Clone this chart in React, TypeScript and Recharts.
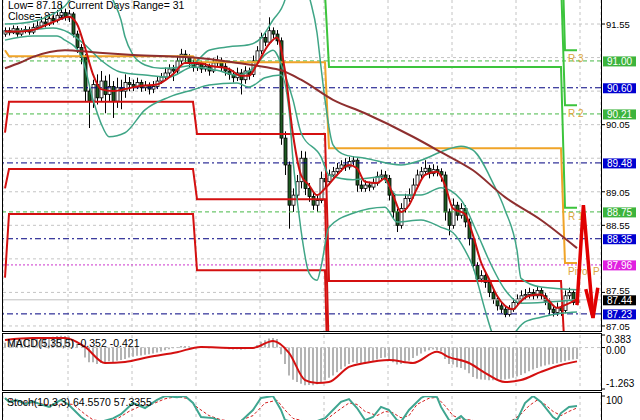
import { ComposedChart, Bar, Line, XAxis, YAxis, CartesianGrid, ReferenceLine } from 'recharts';

const FONT = '"Liberation Sans", Arial, sans-serif';

// price bars (opens are the previous close)
const firstOpen = 91.4;
const closes = [
  91.45, 91.42, 91.48, 91.40, 91.44, 91.47, 91.43, 91.50, 91.52, 91.58,
  91.55, 91.63, 91.60, 91.68, 91.72, 91.66, 91.70, 91.40, 91.20, 91.05,
  90.55, 90.40, 90.65, 90.45, 90.70, 90.50, 90.62, 90.40, 90.60, 90.55,
  90.68, 90.65, 90.62, 90.68, 90.60, 90.63, 90.58, 90.62, 90.70, 90.76,
  90.82, 90.88, 90.85, 91.00, 91.10, 91.05, 90.98, 90.90, 90.95, 90.88,
  90.92, 90.85, 90.97, 91.00, 90.92, 90.85, 90.80, 90.75, 90.82, 90.72,
  90.85, 90.80, 91.00, 91.15, 91.35, 91.28, 91.45, 91.40, 91.30, 89.85,
  89.45, 88.85, 89.00, 89.20, 89.55, 89.10, 88.98, 88.85, 88.92, 89.25,
  89.20, 89.30, 89.35, 89.40, 89.45, 89.42, 89.50, 89.52, 89.15, 89.10,
  89.15, 89.12, 89.18, 89.28, 89.30, 89.25, 89.00, 88.75, 88.55, 88.80,
  88.95, 89.00, 89.15, 89.30, 89.35, 89.40, 89.32, 89.38, 89.35, 89.30,
  88.75, 88.55, 88.85, 88.70, 88.80, 88.60, 88.35, 87.95, 87.75, 87.80,
  87.70, 87.55, 87.45, 87.35, 87.30, 87.22, 87.30, 87.40, 87.45, 87.50,
  87.52, 87.55, 87.50, 87.58, 87.50, 87.42, 87.30, 87.25, 87.32, 87.28,
  87.50, 87.55, 87.40, 87.44,
];
const highs = [
  91.50, 91.50, 91.53, 91.52, 91.49, 91.52, 91.51, 91.56, 91.60, 91.66,
  91.64, 91.70, 91.68, 91.76, 91.84, 91.78, 91.76, 91.73, 91.45, 91.25,
  91.10, 90.62, 90.72, 90.80, 90.85, 90.78, 90.80, 90.70, 90.75, 90.72,
  90.80, 90.76, 90.72, 90.75, 90.72, 90.70, 90.68, 90.70, 90.76, 90.82,
  90.90, 90.95, 90.94, 91.08, 91.18, 91.16, 91.10, 91.02, 91.02, 91.00,
  90.98, 90.96, 91.04, 91.08, 91.05, 90.97, 90.90, 90.86, 90.90, 90.88,
  90.92, 90.90, 91.08, 91.22, 91.42, 91.42, 91.65, 91.50, 91.46, 91.35,
  89.95, 89.50, 89.10, 89.30, 89.66, 89.65, 89.18, 89.05, 89.00, 89.35,
  89.32, 89.38, 89.42, 89.48, 89.52, 89.55, 89.57, 89.58, 89.55, 89.22,
  89.22, 89.20, 89.25, 89.35, 89.38, 89.36, 89.30, 89.05, 88.80, 88.88,
  89.02, 89.10, 89.25, 89.38, 89.42, 89.52, 89.45, 89.46, 89.44, 89.40,
  89.35, 88.80, 88.95, 88.90, 88.88, 88.85, 88.65, 88.40, 88.00, 87.88,
  87.85, 87.74, 87.60, 87.50, 87.40, 87.34, 87.36, 87.46, 87.52, 87.58,
  87.60, 87.62, 87.60, 87.64, 87.62, 87.54, 87.46, 87.34, 87.40, 87.36,
  87.58, 87.62, 87.58, 87.50,
];
const lows = [
  91.36, 91.38, 91.40, 91.36, 91.37, 91.41, 91.39, 91.40, 91.46, 91.48,
  91.50, 91.52, 91.54, 91.57, 91.62, 91.60, 91.58, 91.35, 91.12, 90.95,
  90.40, 90.00, 90.30, 90.35, 90.40, 90.22, 90.40, 90.15, 90.30, 90.28,
  90.45, 90.55, 90.55, 90.58, 90.54, 90.55, 90.50, 90.52, 90.58, 90.66,
  90.72, 90.76, 90.70, 90.80, 90.95, 90.98, 90.90, 90.84, 90.85, 90.82,
  90.84, 90.78, 90.82, 90.92, 90.85, 90.78, 90.72, 90.68, 90.70, 90.50,
  90.66, 90.72, 90.76, 90.95, 91.10, 91.22, 91.24, 91.34, 91.24, 89.75,
  89.30, 88.50, 88.75, 88.90, 89.10, 89.00, 88.90, 88.78, 88.75, 88.88,
  89.12, 89.15, 89.25, 89.30, 89.35, 89.36, 89.38, 89.44, 89.05, 89.05,
  89.05, 89.06, 89.08, 89.14, 89.22, 89.18, 88.92, 88.65, 88.45, 88.50,
  88.74, 88.90, 88.95, 89.10, 89.25, 89.30, 89.25, 89.28, 89.28, 89.20,
  88.62, 88.40, 88.50, 88.62, 88.65, 88.52, 88.25, 87.88, 87.68, 87.70,
  87.62, 87.48, 87.38, 87.28, 87.24, 87.18, 87.19, 87.26, 87.36, 87.40,
  87.44, 87.46, 87.44, 87.46, 87.44, 87.36, 87.22, 87.19, 87.20, 87.20,
  87.24, 87.44, 87.36, 87.36,
];

// daily pivot levels: first bar of each day and its levels
const dayStarts = [0, 1, 48, 81, 140];
const r3Levels = [93.5, 93.4, 93.3, 93.2, 91.16];
const r2Levels = [92.8, 92.7, 92.6, 92.2, 90.34];
const r1Levels = [92.2, 92.05, 92.0, 90.91, 88.81];
const pLevels = [91.16, 91.07, 90.98, 89.70, 87.99];
const s1Levels = [89.93, 90.39, 89.91, 87.72, 86.6];
const s2Levels = [89.1, 89.39, 88.94, 86.5, 85.8];
const s3Levels = [87.77, 88.72, 87.88, 85.5, 85.0];

// indicator lines: [bar, value]
const fastMa = [
  [0, 91.44], [4, 91.44], [8, 91.48], [12, 91.58], [16, 91.66], [18, 91.55], [20, 91.2], [22, 90.8],
  [24, 90.58], [27, 90.55], [30, 90.58], [34, 90.63], [38, 90.65], [42, 90.8], [45, 90.97], [48, 90.97],
  [52, 90.92], [56, 90.88], [59, 90.78], [61, 90.78], [63, 90.95], [66, 91.25], [68, 91.35], [70, 90.85],
  [72, 89.9], [74, 89.3], [76, 89.15], [78, 89.0], [80, 89.1], [83, 89.3], [86, 89.45], [88, 89.4],
  [90, 89.2], [93, 89.18], [95, 89.25], [97, 89.0], [99, 88.75], [101, 88.85], [103, 89.1], [105, 89.3],
  [108, 89.35], [110, 89.15], [112, 88.8], [115, 88.72], [117, 88.4], [119, 88.0], [121, 87.75], [123, 87.5],
  [125, 87.35], [127, 87.3], [129, 87.42], [131, 87.5], [134, 87.52], [136, 87.42], [138, 87.32], [140, 87.36], [143, 87.45],
];
const slowMa = [
  [0, 90.89], [4, 90.98], [7, 91.06], [15, 91.16], [22, 91.13], [32, 91.09], [49, 91.04], [57, 90.98],
  [65, 90.91], [69, 90.86], [74, 90.72], [82, 90.42], [90, 90.22], [102, 89.87], [109, 89.64], [117, 89.37],
  [125, 88.97], [134, 88.63], [143, 88.21],
];
const bandUpper = [
  [0, 91.55], [4, 91.56], [9, 91.62], [12, 91.7], [15, 91.82], [17, 91.98], [20, 92.35], [24, 92.28],
  [27, 91.91], [29, 91.61], [30, 91.36], [32, 91.09], [35, 90.94], [39, 90.89], [44, 90.91], [47, 90.95],
  [51, 91.16], [56, 91.21], [61, 91.24], [64, 91.34], [67, 91.61], [70, 91.91], [71, 92.35], [74, 92.5],
  [76, 91.98], [78, 91.42], [79, 90.91], [80, 90.42], [82, 89.75], [85, 89.6], [90, 89.55], [99, 89.45],
  [104, 89.52], [110, 89.67], [114, 89.73], [117, 89.67], [122, 89.18], [125, 88.78], [128, 88.18],
  [129, 87.76], [134, 87.63], [143, 87.59],
];
const bandMiddle = [
  [0, 91.43], [6, 91.46], [12, 91.49], [16, 91.42], [20, 91.24], [24, 91.01], [29, 90.83], [35, 90.79],
  [41, 90.76], [47, 90.91], [53, 90.86], [58, 90.79], [62, 90.89], [65, 91.09], [67, 91.16], [70, 90.79],
  [72, 90.42], [74, 89.93], [79, 89.57], [81, 89.3], [87, 89.23], [94, 89.27], [98, 89.0], [104, 89.0],
  [109, 89.11], [114, 88.93], [118, 88.44], [121, 88.03], [125, 87.59], [129, 87.39], [143, 87.44],
];
const bandLower = [
  [0, 91.31], [7, 91.37], [13, 91.37], [15, 91.31], [19, 91.09], [22, 90.42], [24, 90.07], [26, 89.87],
  [30, 89.93], [35, 90.27], [41, 90.46], [47, 90.57], [51, 90.64], [58, 90.67], [61, 90.61], [65, 90.75],
  [69, 90.79], [71, 90.27], [72, 89.52], [74, 88.48], [76, 87.84], [78, 87.73], [79, 87.93], [81, 88.52],
  [87, 88.73], [95, 88.82], [98, 88.6], [104, 88.63], [109, 88.52], [112, 88.44], [115, 88.18], [117, 87.93],
  [120, 87.29], [122, 86.91], [125, 86.69], [128, 86.99], [130, 87.11], [134, 87.18], [139, 87.24], [143, 87.26],
];
const arrowBody = [[143, 87.36], [144.6, 88.85], [147, 87.17]];
const arrowHead = [[145.2, 87.6], [147, 87.17], [148.2, 87.62]];

// MACD(5,35,5): histogram per bar and signal line
const macdMain = [
  0.15, 0.18, 0.2, 0.2, 0.22, 0.25, 0.25, 0.27, 0.28, 0.3,
  0.3, 0.32, 0.33, 0.35, 0.36, 0.35, 0.34, 0.25, 0.12, 0.0,
  -0.3, -0.45, -0.45, -0.5, -0.47, -0.45,
  -0.42, -0.45, -0.4, -0.38, -0.35, -0.3, -0.28, -0.25, -0.24, -0.22, -0.2,
  -0.18, -0.15, -0.12, -0.08, -0.05, -0.02, 0.02, 0.05, 0.05, 0.04, 0.02, 0.0,
  -0.01, 0, -0.02, -0.01, 0.0, -0.01, -0.03, -0.05, -0.06, -0.05, -0.07, -0.05, -0.04,
  0.0, 0.08, 0.18, 0.22, 0.28, 0.29, 0.26,
  -0.2, -0.5, -0.85, -0.98, -1.05, -1.1, -1.15, -1.14, -1.15, -1.12, -1.05, -1.0, -0.92,
  -0.85, -0.75, -0.66, -0.58, -0.5, -0.45, -0.48, -0.47,
  -0.45, -0.43, -0.4, -0.36, -0.32, -0.3, -0.35, -0.45, -0.52, -0.5, -0.45, -0.4, -0.32, -0.25, -0.18,
  -0.12, -0.08, -0.06, -0.08, -0.12,
  -0.35, -0.5, -0.52, -0.6, -0.62, -0.68, -0.78, -0.9, -0.95, -0.97, -0.98, -1.0,
  -1.0, -1.0, -0.98, -0.97, -0.95, -0.92, -0.88, -0.84,
  -0.78, -0.72, -0.67, -0.62, -0.58, -0.55, -0.52, -0.5, -0.48, -0.45, -0.42, -0.39, -0.36, -0.352,
];
const macdSignal = [
  [0, 0.23], [7, 0.29], [15, 0.29], [20, 0.02], [25, -0.47], [30, -0.44], [36, -0.29], [43, -0.14],
  [49, 0.02], [57, -0.01], [62, -0.01], [67, 0.2], [71, -0.16], [75, -0.99], [78, -1.08], [81, -1.05],
  [86, -0.59], [90, -0.47], [96, -0.38], [102, -0.47], [108, -0.13], [111, -0.29], [116, -0.47],
  [120, -0.77], [125, -1.05], [129, -0.99], [134, -0.74], [139, -0.53], [143, -0.421],
];

// Stoch(10,3,3)
const stochMain = [
  [0, 93], [1, 79], [3, 85], [5, 72], [7, 80], [9, 70], [11, 61], [14, 86], [16, 68], [19, 25], [21, 5],
  [24, 8], [27, 20], [29, 35], [32, 75], [35, 57], [38, 86], [40, 100], [43, 96], [45, 100], [47, 75],
  [49, 25], [52, 21], [55, 5], [59, 10], [62, 50], [64, 93], [67, 100], [69, 50], [70, 14], [73, 3],
  [77, 5], [80, 21], [82, 50], [84, 79], [86, 89], [88, 57], [90, 14], [92, 25], [94, 61], [96, 50],
  [98, 14], [99, 8], [101, 50], [104, 93], [105, 100], [108, 96], [109, 61], [111, 14], [112, 8],
  [114, 28], [115, 14], [118, 3], [124, 5], [128, 14], [130, 75], [132, 100], [134, 79], [137, 25],
  [138, 15], [139, 39], [141, 61], [143, 64.557],
];
const stochSignal = [
  [0, 88], [2, 85], [4, 80], [6, 76], [8, 75], [10, 70], [12, 68], [15, 72], [17, 70], [20, 35], [22, 15],
  [25, 8], [28, 18], [31, 45], [34, 65], [37, 72], [40, 90], [43, 98], [46, 90], [48, 60], [51, 30],
  [54, 15], [58, 8], [62, 30], [65, 75], [68, 85], [70, 50], [72, 20], [76, 6], [80, 12], [83, 45],
  [86, 75], [88, 70], [90, 45], [93, 30], [95, 45], [97, 40], [99, 22], [101, 30], [103, 70], [106, 92],
  [108, 95], [110, 65], [112, 30], [114, 18], [116, 15], [120, 6], [126, 5], [129, 35], [131, 65],
  [133, 85], [135, 70], [137, 45], [139, 30], [141, 45], [143, 57.3355],
];

// grid runs every 0.50; the labels that sit under a price box are left out
const priceGrid = [87.05, 87.55, 88.05, 88.55, 89.05, 89.55, 90.05, 90.55, 91.05, 91.55];
const priceTicks = [87.05, 87.55, 88.55, 89.05, 90.05, 91.55];
const gridBars = [7.75, 15.75, 23.75, 31.75, 39.75, 47.75, 55.75, 63.75, 71.75, 79.75, 87.75, 95.75, 103.75, 111.75, 119.75, 127.75, 135.75, 143.75];
const macdTicks = [0.383, 0, -1.263];
const stochTicks = [100];

const pivotLevel = (levels: number[], i: number) => {
  let d = 0;
  dayStarts.forEach((s, k) => { if (i >= s) d = k; });
  return levels[d];
};

const bars = closes.map((c, i) => {
  const open = i === 0 ? firstOpen : closes[i - 1];
  return {
    i, open, close: c, high: highs[i], low: lows[i], range: [lows[i], highs[i]],
    r3: pivotLevel(r3Levels, i), r2: pivotLevel(r2Levels, i), r1: pivotLevel(r1Levels, i),
    p: pivotLevel(pLevels, i), s1: pivotLevel(s1Levels, i), s2: pivotLevel(s2Levels, i), s3: pivotLevel(s3Levels, i),
  };
});
const rows = (pairs: number[][]) => pairs.map(([i, v]) => ({ i, v }));
const macdRows = macdMain.map((m, i) => ({ i, m }));

const X_DOMAIN: [number, number] = [-0.5, 149];

const Candle = (props: any) => {
  const { x, y, width, height, payload } = props;
  const { open, close, high, low } = payload;
  const span = high - low || 1;
  const toY = (v: number) => y + ((high - v) / span) * height;
  const cx = Math.round(x + width / 2) + 0.5;
  const top = toY(Math.max(open, close));
  const bot = toY(Math.min(open, close));
  const bull = close >= open;
  return (
    <g>
      <line x1={cx} x2={cx} y1={y} y2={y + height} stroke="#000" strokeWidth={1} />
      <rect x={cx - 1.5} y={top} width={3} height={Math.max(bot - top, 1)}
        fill={bull ? '#fff' : '#1d5a22'} stroke="#000" strokeWidth={0.8} />
    </g>
  );
};

const PriceBox = (props: any) => {
  const { viewBox, text, bg } = props;
  if (!viewBox) return null;
  const right = viewBox.x + viewBox.width;
  return (
    <g>
      <rect x={right + 2} y={viewBox.y - 4.5} width={33} height={10} fill={bg} />
      <text x={right + 18.5} y={viewBox.y + 4} textAnchor="middle" fill="#fff" fontSize={10} fontFamily={FONT}>{text}</text>
    </g>
  );
};

const PivotText = (props: any) => {
  const { viewBox, text } = props;
  if (!viewBox) return null;
  return (
    <text x={viewBox.x + viewBox.width - 33} y={viewBox.y + 12} fill="#dba640" fontSize={10} fontFamily={FONT}>{text}</text>
  );
};

// 87.55 sits just above the 87.44 box, so it is nudged up a little
const PriceTick = (props: any) => {
  const { x, y, payload } = props;
  const v = payload.value;
  const nudge = v === 87.55 ? -1.5 : 0.5;
  return <text x={x} y={y + nudge} dy="0.35em" fontSize={9.5} fontFamily={FONT} fill="#000">{v.toFixed(2)}</text>;
};

const MacdTick = (props: any) => {
  const { x, y, payload } = props;
  const v = payload.value;
  const shift = v > 0.1 ? 4 : v < -1 ? -5.5 : 2.5;
  const label = v === 0 ? '0.00' : v.toFixed(3);
  return <text x={x} y={y + shift} dy="0.35em" fontSize={10} fontFamily={FONT} fill="#000">{label}</text>;
};

const StochTick = (props: any) => {
  const { x, y, payload } = props;
  return <text x={x} y={y + 4} dy="0.35em" fontSize={10} fontFamily={FONT} fill="#000">{payload.value}</text>;
};

const navy = '#000080';
const greenDash = '#48b848';
const stepGreen = '#3cc43c';
const stepOrange = '#f0a428';
const stepRed = '#d41010';
const bandColor = '#3fa586';

const textStyle = { position: 'absolute' as const, fontSize: 10.5, whiteSpace: 'pre' as const, color: '#000', lineHeight: '12px' };

export default function App() {
  return (
    <div style={{ position: 'absolute', left: 0, top: 0, width: 640, height: 420, overflow: 'hidden', background: '#fff', fontFamily: FONT }}>
      <div style={{ ...textStyle, left: 8, top: -1 }}>Low= 87.18</div>
      <div style={{ ...textStyle, left: 68, top: -1 }}>Current Days Range= 31</div>
      <div style={{ ...textStyle, left: 8, top: 10 }}>Close= 87.44</div>

      <div style={{ position: 'absolute', left: 0, top: 0 }}>
        <ComposedChart width={640} height={331} data={bars} margin={{ top: 0, right: 0, bottom: 0, left: 3 }}>
          <CartesianGrid stroke="#c4c4c4" strokeDasharray="3 3" horizontalValues={priceGrid} />
          <XAxis type="number" dataKey="i" domain={X_DOMAIN} allowDataOverflow ticks={gridBars} hide />
          <YAxis orientation="right" width={39} domain={[86.975, 91.908]} allowDataOverflow ticks={priceTicks} interval={0}
            axisLine={false} tickSize={4} tickMargin={1} tickLine={{ stroke: '#000' }} tick={<PriceTick />} />

          <ReferenceLine y={90.60} stroke={navy} strokeDasharray="6 3 2 3" label={<PriceBox text="90.60" bg="#0000d0" />} />
          <ReferenceLine y={89.48} stroke={navy} strokeDasharray="6 3 2 3" label={<PriceBox text="89.48" bg="#0000d0" />} />
          <ReferenceLine y={88.35} stroke={navy} strokeDasharray="6 3 2 3" label={<PriceBox text="88.35" bg="#0000d0" />} />
          <ReferenceLine y={87.23} stroke={navy} strokeDasharray="6 3 2 3" label={<PriceBox text="87.23" bg="#0000d0" />} />
          <ReferenceLine y={91.00} stroke={greenDash} strokeDasharray="4 3" label={<PriceBox text="91.00" bg="#3cb43c" />} />
          <ReferenceLine y={90.21} stroke={greenDash} strokeDasharray="4 3" label={<PriceBox text="90.21" bg="#3cb43c" />} />
          <ReferenceLine y={88.75} stroke={greenDash} strokeDasharray="4 3" label={<PriceBox text="88.75" bg="#3cb43c" />} />
          <ReferenceLine y={87.96} stroke="#cc33cc" strokeDasharray="2 2" label={<PriceBox text="87.96" bg="#e020e0" />} />
          <ReferenceLine y={87.44} stroke="#c0c0c0" label={<PriceBox text="87.44" bg="#000" />} />
          <ReferenceLine y={r3Levels[4]} stroke="none" label={<PivotText text="R 3" />} />
          <ReferenceLine y={r2Levels[4]} stroke="none" label={<PivotText text="R 2" />} />
          <ReferenceLine y={r1Levels[4]} stroke="none" label={<PivotText text="R 1" />} />
          <ReferenceLine y={pLevels[4]} stroke="none" label={<PivotText text="Pivot P" />} />

          <Line dataKey="r3" stroke={stepGreen} strokeWidth={2} dot={false} isAnimationActive={false} />
          <Line dataKey="r2" stroke={stepGreen} strokeWidth={2} dot={false} isAnimationActive={false} />
          <Line dataKey="r1" stroke={stepGreen} strokeWidth={2} dot={false} isAnimationActive={false} />
          <Line dataKey="p" stroke={stepOrange} strokeWidth={2} dot={false} isAnimationActive={false} />
          <Line dataKey="s1" stroke={stepRed} strokeWidth={2} dot={false} isAnimationActive={false} />
          <Line dataKey="s2" stroke={stepRed} strokeWidth={2} dot={false} isAnimationActive={false} />
          <Line dataKey="s3" stroke={stepRed} strokeWidth={2} dot={false} isAnimationActive={false} />

          <Bar dataKey="range" barSize={3} shape={Candle} isAnimationActive={false} />

          <Line data={rows(bandUpper)} dataKey="v" type="monotone" stroke={bandColor} strokeWidth={1.5} dot={false} isAnimationActive={false} />
          <Line data={rows(bandMiddle)} dataKey="v" type="monotone" stroke={bandColor} strokeWidth={1.5} dot={false} isAnimationActive={false} />
          <Line data={rows(bandLower)} dataKey="v" type="monotone" stroke={bandColor} strokeWidth={1.5} dot={false} isAnimationActive={false} />
          <Line data={rows(slowMa)} dataKey="v" type="monotone" stroke="#8e2f2f" strokeWidth={2} dot={false} isAnimationActive={false} />
          <Line data={rows(fastMa)} dataKey="v" type="monotone" stroke="#cc1010" strokeWidth={2} dot={false} isAnimationActive={false} />
          <Line data={rows(arrowBody)} dataKey="v" type="linear" stroke="#e00000" strokeWidth={3.5} dot={false} isAnimationActive={false} />
          <Line data={rows(arrowHead)} dataKey="v" type="linear" stroke="#e00000" strokeWidth={3.5} dot={false} isAnimationActive={false} />
        </ComposedChart>
      </div>

      <div style={{ position: 'absolute', left: 0, top: 333 }}>
        <ComposedChart width={640} height={58} data={macdRows} margin={{ top: 2, right: 0, bottom: 2, left: 3 }}>
          <CartesianGrid stroke="#c4c4c4" strokeDasharray="3 3" horizontalValues={[0]} />
          <XAxis type="number" dataKey="i" domain={X_DOMAIN} allowDataOverflow ticks={gridBars} hide />
          <YAxis orientation="right" width={39} domain={[-1.263, 0.383]} allowDataOverflow ticks={macdTicks} interval={0}
            axisLine={false} tickSize={4} tickMargin={1} tickLine={{ stroke: '#000' }} tick={<MacdTick />} />
          <Bar dataKey="m" barSize={2} fill="#b4b4b4" isAnimationActive={false} />
          <Line data={rows(macdSignal)} dataKey="v" type="monotone" stroke="#d41010" strokeWidth={2} dot={false} isAnimationActive={false} />
        </ComposedChart>
      </div>

      <div style={{ position: 'absolute', left: 0, top: 392 }}>
        <ComposedChart width={640} height={36} data={rows(stochMain)} margin={{ top: 4, right: 0, bottom: 4, left: 3 }}>
          <CartesianGrid stroke="#c4c4c4" strokeDasharray="3 3" horizontal={false} />
          <XAxis type="number" dataKey="i" domain={X_DOMAIN} allowDataOverflow ticks={gridBars} hide />
          <YAxis orientation="right" width={39} domain={[0, 100]} allowDataOverflow ticks={stochTicks} interval={0}
            axisLine={false} tickSize={4} tickMargin={1} tickLine={{ stroke: '#000' }} tick={<StochTick />} />
          <Line data={rows(stochSignal)} dataKey="v" type="linear" stroke="#d42020" strokeDasharray="3 2" strokeWidth={1} dot={false} isAnimationActive={false} />
          <Line dataKey="v" type="linear" stroke="#3fa590" strokeWidth={2} dot={false} isAnimationActive={false} />
        </ComposedChart>
      </div>

      <div style={{ position: 'absolute', left: 2, top: -1, width: 600, height: 333, border: '1px solid #000', boxSizing: 'border-box', pointerEvents: 'none' }} />
      <div style={{ position: 'absolute', left: 2, top: 333, width: 600, height: 58, border: '1px solid #000', boxSizing: 'border-box', pointerEvents: 'none' }} />
      <div style={{ position: 'absolute', left: 2, top: 392, width: 600, height: 40, border: '1px solid #000', boxSizing: 'border-box', pointerEvents: 'none' }} />

      <div style={{ ...textStyle, left: 7, top: 337 }}>MACD(5,35,5) -0.352 -0.421</div>
      <div style={{ ...textStyle, left: 7, top: 396 }}>Stoch(10,3,3) 64.5570 57.3355</div>
    </div>
  );
}
